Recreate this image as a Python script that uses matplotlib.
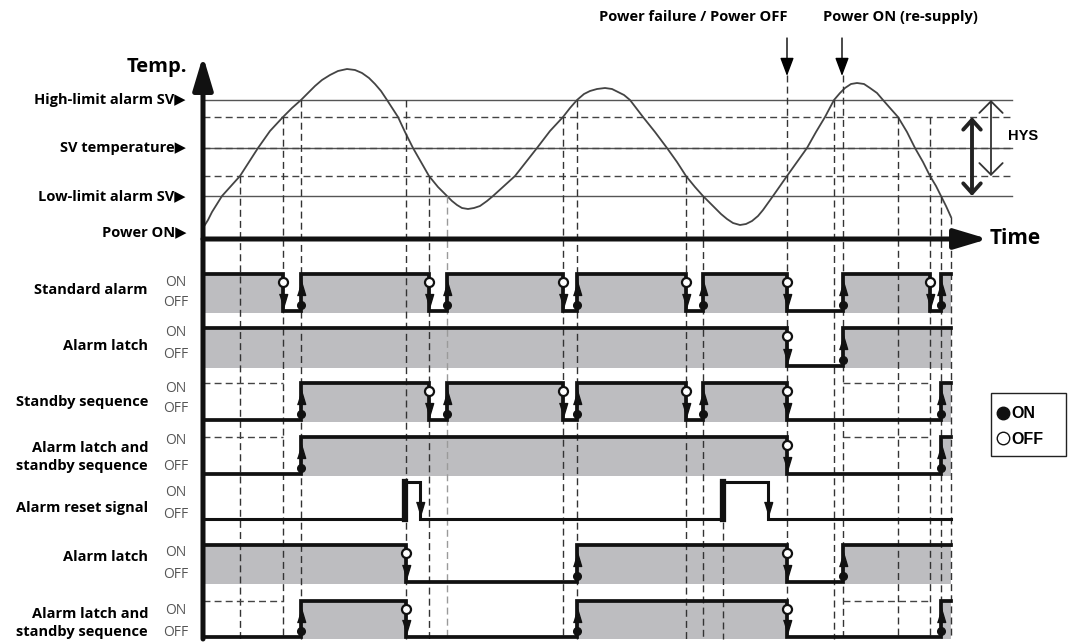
import matplotlib.pyplot as plt
from matplotlib.patches import Rectangle

plt.rcParams['font.family'] = ['Open Sans', 'DejaVu Sans']

# chart is laid out in its own units: time runs left to right, levels top to bottom
t0, t_end = 203, 951

# temperature curve (time, level)
curve_t = [203, 208, 212, 217, 222, 231, 240, 249, 258, 270, 283, 292, 301, 308, 315, 322,
           330, 338, 347, 355, 362, 369, 375, 381, 387, 398, 405, 413, 421, 429, 438, 447,
           452, 457, 462, 468, 474, 480, 487, 493, 504, 515, 526, 537, 550, 563, 570, 577,
           584, 590, 597, 605, 612, 618, 624, 630, 643, 655, 667, 677, 686, 695, 703, 709,
           715, 721, 727, 733, 740, 746, 752, 758, 763, 768, 773, 780, 787, 797, 807, 816,
           825, 834, 840, 845, 851, 857, 864, 870, 877, 883, 890, 898, 907, 915, 923, 930,
           936, 941, 946, 951]
curve_v = [228, 220, 212, 204, 196, 186, 176, 162, 148, 131, 117, 108, 100, 93, 86, 80,
           75, 71, 69, 70, 73, 78, 84, 91, 100, 117, 132, 148, 162, 176, 187, 196,
           201, 205, 208, 209, 208, 206, 201, 196, 186, 176, 162, 148, 131, 117, 108, 100,
           94, 91, 89, 88, 89, 92, 95, 100, 117, 132, 148, 162, 176, 187, 196, 202,
           208, 214, 219, 223, 225, 224, 221, 216, 210, 203, 196, 186, 176, 162, 148, 132,
           117, 100, 93, 88, 84, 83, 84, 88, 93, 100, 108, 117, 132, 148, 162, 176,
           186, 196, 206, 217]

# reference levels
level_names = ['High-limit alarm SV\u25b6', 'SV temperature\u25b6', 'Low-limit alarm SV\u25b6', 'Power ON\u25b6']
level_vals = [100, 148, 196, 232]
hys_vals = [117, 176]
time_axis = 239

# output rows: initial state and switching times
row_names = ['Standard alarm', 'Alarm latch', 'Standby sequence', 'Alarm latch and\nstandby sequence',
             'Alarm reset signal', 'Alarm latch', 'Alarm latch and\nstandby sequence']
row_start = [1, 1, 0, 0, 0, 1, 0]
row_toggles = [
    [283, 301, 429, 447, 563, 577, 686, 703, 787, 843, 930, 941],
    [787, 843],
    [301, 429, 447, 563, 577, 686, 703, 787, 941],
    [301, 787, 941],
    [403, 420, 721, 768],
    [406, 577, 787, 843],
    [301, 406, 577, 787, 941],
]
# standby periods shown as dashed boxes
standby_rows = [2, 3, 6]
standby_spans = [(203, 283), (843, 930)]

# event times marked by dashed verticals, and where each one starts
event_t = [240, 283, 301, 406, 429, 447, 563, 577, 686, 703, 723, 787, 834, 843, 898, 930, 941, 951]
event_top = [176, 117, 100, 100, 176, 196, 117, 100, 176, 196, 522, 75, 100, 75, 117, 117, 196, 217]

# layout of the rows
on_y = [274, 328, 383, 437, 482, 545, 601]
off_y = [311, 366, 420, 474, 519, 582, 637]
name_y = [290, 346, 402, 457, 508, 557, 623]
on_lab_y = [282, 332, 388, 441, 493, 553, 611]
off_lab_y = [303, 355, 408, 466, 514, 575, 632]

fig = plt.figure(figsize=(10.69, 6.43), dpi=100)
ax = fig.add_axes([0, 0, 1, 1])
ax.set_xlim(0, 1069)
ax.set_ylim(643, 0)
ax.axis('off')

up_tri = [(-3, -5), (3, -5), (0, 5)]
down_tri = [(-3, 5), (3, 5), (0, -5)]
grey = '#bdbdc0'

# temperature section
for v in level_vals[:3]:
    ax.plot([t0, 1012], [v, v], color='#555555', lw=1.0, zorder=2)
for v in hys_vals + [level_vals[1]]:
    ax.plot([t0, 1012], [v, v], color='#444444', lw=1.0, dashes=(5, 3), zorder=2)
ax.plot(curve_t, curve_v, color='#444444', lw=1.3, zorder=3)

for name, v in zip(level_names, level_vals):
    ax.text(186, v, name, ha='right', va='center', fontsize=10.5, fontweight='bold')
ax.text(187, 67, 'Temp.', ha='right', va='center', fontsize=14.5, fontweight='bold')
ax.text(990, 239, 'Time', ha='left', va='center', fontsize=15, fontweight='bold')

# axes with arrows
ax.annotate('', xy=(203, 56), xytext=(203, 639),
            arrowprops=dict(arrowstyle='-|>,head_length=1.0,head_width=0.3', lw=3.6, color='#111111',
                            shrinkA=0, shrinkB=0, mutation_scale=20), zorder=8)
ax.annotate('', xy=(988, time_axis), xytext=(203, time_axis),
            arrowprops=dict(arrowstyle='-|>,head_length=1.0,head_width=0.3', lw=3.6, color='#111111',
                            shrinkA=0, shrinkB=0, mutation_scale=20), zorder=8)

# power failure / re-supply arrows
ax.text(693, 17, 'Power failure / Power OFF', ha='center', va='center', fontsize=10.5, fontweight='bold')
ax.text(900, 17, 'Power ON (re-supply)', ha='center', va='center', fontsize=10.5, fontweight='bold')
for x in [787, 842]:
    ax.annotate('', xy=(x, 76), xytext=(x, 38),
                arrowprops=dict(arrowstyle='-|>,head_length=0.8,head_width=0.3', lw=1.0, color='k',
                                shrinkA=0, shrinkB=0, mutation_scale=14))

# hysteresis arrows
ax.annotate('', xy=(972, 117), xytext=(972, 196),
            arrowprops=dict(arrowstyle='<->,head_length=0.5,head_width=0.45', lw=2.8, color='#222222',
                            shrinkA=0, shrinkB=0, mutation_scale=14))
ax.annotate('', xy=(991, 100), xytext=(991, 176),
            arrowprops=dict(arrowstyle='<->,head_length=0.6,head_width=0.6', lw=1.3, color='#333333',
                            shrinkA=0, shrinkB=0, mutation_scale=14))
ax.text(1008, 136, 'HYS', ha='left', va='center', fontsize=10.5, fontweight='bold', family='Liberation Sans')

# event verticals
for x, top in zip(event_t, event_top):
    col = '#9a9a9a' if x == 447 else '#333333'
    ax.plot([x, x], [top, 639], color=col, lw=1.0, dashes=(5, 3), zorder=4)

# output rows
for i, name in enumerate(row_names):
    yon, yoff = on_y[i], off_y[i]
    xs = [t0] + row_toggles[i] + [t_end]
    states = [row_start[i]]
    for _ in row_toggles[i]:
        states.append(1 - states[-1])
    states.append(states[-1])
    ys = [yon if s else yoff for s in states]
    reset = (i == 4)
    if not reset:
        for a, b, s in zip(xs[:-1], xs[1:], states[:-1]):
            if s:
                ax.add_patch(Rectangle((a, yon), b - a, yoff - yon + 1.5, color=grey, lw=0, zorder=1))
    lw = 2.2 if reset else 2.7
    ax.plot(xs, ys, drawstyle='steps-post', color='#111111', lw=lw, zorder=5, solid_joinstyle='miter')

    if i in standby_rows:
        for a, b in standby_spans:
            ax.plot([a, b], [yon, yon], color='#444444', lw=1.0, dashes=(5, 3), zorder=4)

    s = row_start[i]
    for x in row_toggles[i]:
        s = 1 - s
        if reset:
            if s:
                ax.plot([x + 2, x + 2], [yon, yoff], color='#111111', lw=4.5, zorder=5)
            else:
                ax.plot(x, yoff - 10, marker=down_tri, ms=10, color='#111111', zorder=6)
        elif s:
            ax.plot(x, yoff - 6, 'o', ms=5.5, color='#111111', zorder=6)
            ax.plot(x, yon + 14, marker=up_tri, ms=10, color='#111111', zorder=6)
        else:
            ax.plot(x, yoff - 10, marker=down_tri, ms=10, color='#111111', zorder=6)
            ax.plot(x, yon + 8, 'o', ms=6.5, mfc='white', mec='#111111', mew=1.6, zorder=7)

    ax.text(148, name_y[i], name, ha='right', va='center', fontsize=10.5, fontweight='bold',
            linespacing=1.4)
    ax.text(176, on_lab_y[i], 'ON', ha='center', va='center', fontsize=10, color='#555555')
    ax.text(176, off_lab_y[i], 'OFF', ha='center', va='center', fontsize=10, color='#555555')

# legend box
ax.add_patch(Rectangle((991, 393), 75, 63, fill=False, ec='#222222', lw=1.0))
ax.plot(1003, 413, 'o', ms=9, color='#111111')
ax.plot(1003, 438, 'o', ms=9, mfc='white', mec='#111111', mew=1.0)
ax.text(1011, 414, 'ON', ha='left', va='center', fontsize=11.5, fontweight='bold', family='Liberation Sans')
ax.text(1011, 439, 'OFF', ha='left', va='center', fontsize=11.5, fontweight='bold', family='Liberation Sans')

fig.savefig('out.png', dpi=100)
